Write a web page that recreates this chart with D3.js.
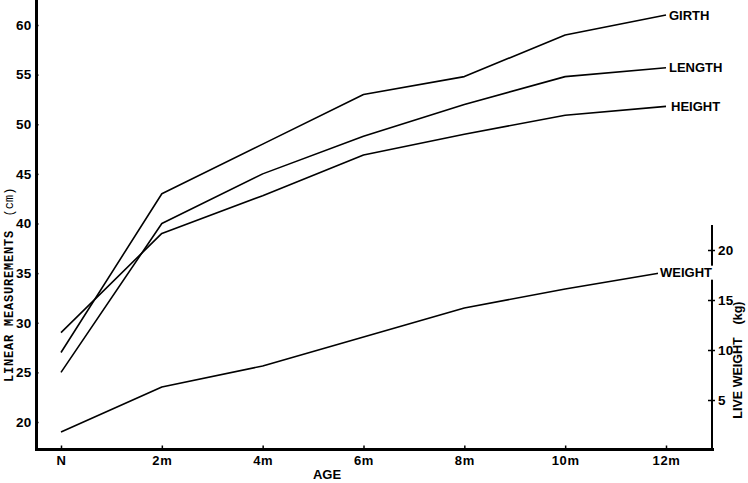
<!DOCTYPE html>
<html>
<head>
<meta charset="utf-8">
<script src="https://cdn.jsdelivr.net/npm/d3@7"></script>
<style>
  html, body { margin: 0; padding: 0; background: #fff; }
  svg { display: block; }
  text { fill: #000; }
</style>
</head>
<body>
<svg id="chart" width="748" height="483"></svg>
<script>
// ---- data ----
const ageMonths = [0, 2, 4, 6, 8, 10, 12];
const ageLabels = ["N", "2m", "4m", "6m", "8m", "10m", "12m"];
const girth  = [27, 43, 48, 53, 54.8, 59, 61];
const length = [25, 40, 45, 48.8, 52, 54.8, 55.7];
const height = [29, 39, 42.8, 46.9, 49, 50.9, 51.8];
const weight = [1.8, 6.3, 8.4, 11.3, 14.2, 16.1, 17.8];   // kg, right axis
const leftTicks  = [20, 25, 30, 35, 40, 45, 50, 55, 60];
const rightTicks = [5, 10, 15, 20];

const svg = d3.select("#chart");
const font = "'Liberation Sans', Arial, sans-serif";
const mono = "'Liberation Mono', 'DejaVu Sans Mono', monospace";

const x  = d3.scaleLinear().domain([0, 12]).range([61, 666]);
const yL = d3.scaleLinear().domain([20, 60]).range([422, 25]);
const yR = d3.scaleLinear().domain([0, 20]).range([450, 250]);

const axisX = 36.5, axisBottom = 449.5, axisRight = 712;

// ---- axes lines ----
svg.append("line").attr("x1", axisX).attr("x2", axisX).attr("y1", 0).attr("y2", axisBottom + 1.5)
  .attr("stroke", "#000").attr("stroke-width", 3);
svg.append("line").attr("x1", axisX - 1.5).attr("x2", axisRight + 2).attr("y1", axisBottom).attr("y2", axisBottom)
  .attr("stroke", "#000").attr("stroke-width", 3);
svg.append("line").attr("x1", axisRight).attr("x2", axisRight).attr("y1", 225).attr("y2", axisBottom)
  .attr("stroke", "#000").attr("stroke-width", 2);

// left axis ticks
const gL = svg.append("g").attr("transform", `translate(${axisX},0)`)
  .call(d3.axisLeft(yL).tickValues(leftTicks).tickSize(3).tickPadding(2));
gL.select(".domain").remove();
gL.selectAll(".tick line").attr("x2", 2).attr("stroke-width", 1.5);
gL.selectAll(".tick text").attr("font-family", font).attr("font-weight", "bold").attr("font-size", 13.5)
  .attr("letter-spacing", 0.3);

// right axis ticks
const gR = svg.append("g").attr("transform", `translate(${axisRight},0)`)
  .call(d3.axisRight(yR).tickValues(rightTicks).tickSize(3).tickPadding(3));
gR.select(".domain").remove();
gR.selectAll(".tick line").attr("x1", -4).attr("stroke-width", 1.5);
gR.selectAll(".tick text").attr("font-family", font).attr("font-weight", "bold").attr("font-size", 13.5)
  .attr("letter-spacing", 0.3);

// bottom axis ticks
const gB = svg.append("g").attr("transform", `translate(0,${axisBottom})`)
  .call(d3.axisBottom(x).tickValues(ageMonths).tickFormat((d, i) => ageLabels[i]).tickSize(0).tickPadding(6));
gB.select(".domain").remove();
gB.selectAll(".tick").append("line").attr("y1", -4).attr("y2", 0).attr("stroke", "#000").attr("stroke-width", 1.5);
gB.selectAll(".tick text").attr("font-family", font).attr("font-weight", "bold").attr("font-size", 13)
  .attr("letter-spacing", 0.6);

// ---- series ----
const series = [
  { name: "GIRTH",  values: girth,  y: yL, dx: 3 },
  { name: "LENGTH", values: length, y: yL, dx: 3 },
  { name: "HEIGHT", values: height, y: yL, dx: 5 },
  { name: "WEIGHT", values: weight, y: yR, dx: -6 }
];

series.forEach(s => {
  const line = d3.line().x((d, i) => x(ageMonths[i])).y(d => s.y(d));
  svg.append("path").datum(s.values).attr("d", line)
    .attr("fill", "none").attr("stroke", "#000").attr("stroke-width", 1.6)
    .attr("stroke-linejoin", "round");
});

series.forEach(s => {
  const lx = x(ageMonths[ageMonths.length - 1]) + s.dx;
  const ly = s.y(s.values[s.values.length - 1]);
  const t = svg.append("text").attr("x", lx).attr("y", ly).attr("dy", "0.36em")
    .attr("font-family", font).attr("font-weight", "bold").attr("font-size", 13)
    .text(s.name);
  const bb = t.node().getBBox();
  svg.insert("rect", () => t.node())
    .attr("x", bb.x - 2).attr("y", bb.y + 1).attr("width", bb.width + 3).attr("height", bb.height - 1)
    .attr("fill", "#fff");
});

// ---- axis titles ----
svg.append("text").attr("transform", "translate(327,479)").attr("text-anchor", "middle")
  .attr("font-family", font).attr("font-weight", "bold").attr("font-size", 13).text("AGE");

svg.append("text").attr("transform", "translate(13,306) rotate(-90)").attr("text-anchor", "middle")
  .attr("font-family", mono).attr("font-weight", "bold").attr("font-size", 12)
  .attr("letter-spacing", 0.8).text("LINEAR MEASUREMENTS");
svg.append("text").attr("transform", "translate(13,202) rotate(-90)").attr("text-anchor", "middle")
  .attr("font-family", mono).attr("font-size", 12)
  .text("(cm)");

svg.append("text").attr("transform", "translate(742,378) rotate(-90)").attr("text-anchor", "middle")
  .attr("font-family", font).attr("font-weight", "bold").attr("font-size", 12.5).text("LIVE WEIGHT");
svg.append("text").attr("transform", "translate(742,313) rotate(-90)").attr("text-anchor", "middle")
  .attr("font-family", font).attr("font-weight", "bold").attr("font-size", 12.5).text("(kg)");
</script>
</body>
</html>
